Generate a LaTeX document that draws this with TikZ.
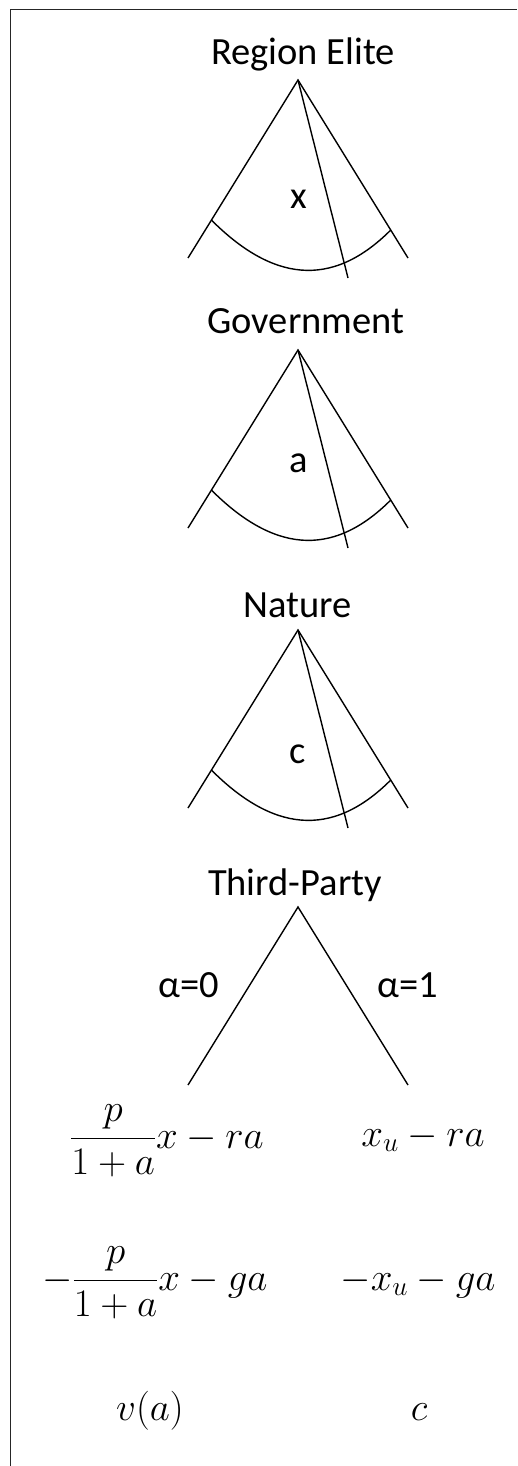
\documentclass[tikz,border=0pt]{standalone}
\usepackage{fix-cm}
\usepackage{fontspec}
\setmainfont{Carlito}
\usetikzlibrary{calc}

\begin{document}
\begin{tikzpicture}[
  x=1pt, y=-1pt,
  lbl/.style={font=\fontsize{38.5}{42}\selectfont, anchor=base, inner sep=0pt},
  pay/.style={font=\fontsize{39}{44}\selectfont, anchor=base, inner sep=0pt},
  branch/.style={line width=1.4pt},
  frame/.style={line width=1.6pt, draw=black!85}
]
\useasboundingbox (0,0) rectangle (517,1466);

% ── frame ────────────────────────────────────────────────────────────────
\draw[frame] (10.5,1466) -- (10.5,9.5) -- (517,9.5);

% ── Region Elite ─────────────────────────────────────────────────────────
\node[lbl] (tRE) at (303,65) {Region Elite};
\coordinate (eA) at (298,80);
\coordinate (eL) at (188,258);
\coordinate (eR) at (408,258);
\coordinate (eM) at (348,278);
\draw[branch] (eL) -- (eA) -- (eR);
\draw[branch] (eA) -- (eM);
\draw[branch] ($(eA)!0.787!(eL)$) .. controls +(60,60) and +(-60,60) .. ($(eA)!0.843!(eR)$);
\node[lbl] (ex) at (299,208) {x};

% ── Government ───────────────────────────────────────────────────────────
\node[lbl] (tGV) at (306,333) {Government};
\coordinate (gA) at (298,350);
\coordinate (gL) at (188,528);
\coordinate (gR) at (408,528);
\coordinate (gM) at (348,548);
\draw[branch] (gL) -- (gA) -- (gR);
\draw[branch] (gA) -- (gM);
\draw[branch] ($(gA)!0.787!(gL)$) .. controls +(60,60) and +(-60,60) .. ($(gA)!0.843!(gR)$);
\node[lbl] (ga) at (299,472) {a};

% ── Nature ───────────────────────────────────────────────────────────────
\node[lbl] (tNA) at (297.5,617) {Nature};
\coordinate (nA) at (298,630);
\coordinate (nL) at (188,808);
\coordinate (nR) at (408,808);
\coordinate (nM) at (348,828);
\draw[branch] (nL) -- (nA) -- (nR);
\draw[branch] (nA) -- (nM);
\draw[branch] ($(nA)!0.787!(nL)$) .. controls +(60,60) and +(-60,60) .. ($(nA)!0.843!(nR)$);
\node[lbl] (nc) at (297.5,763) {c};

% ── Third-Party ──────────────────────────────────────────────────────────
\node[lbl] (tTP) at (295,895) {Third-Party};
\coordinate (tA) at (298,907);
\coordinate (tL) at (188,1085);
\coordinate (tR) at (408,1085);
\draw[branch] (tL) -- (tA) -- (tR);
\node[lbl] (al0) at (189,997) {α=0};
\node[lbl] (al1) at (407.5,997) {α=1};

% ── payoffs ──────────────────────────────────────────────────────────────
\node[pay] (pE0) at (167,1148) {$\displaystyle\frac{p}{1+a}x-ra$};
\node[pay] (pE1) at (423,1146) {$x_u-ra$};
\node[pay] (pG0) at (155,1290) {$\displaystyle-\frac{p}{1+a}x-ga$};
\node[pay] (pG1) at (418,1290) {$-x_u-ga$};
\node[pay] (pN0) at (150,1420) {$v(a)$};
\node[pay] (pN1) at (419,1420) {$c$};

\end{tikzpicture}
\end{document}
